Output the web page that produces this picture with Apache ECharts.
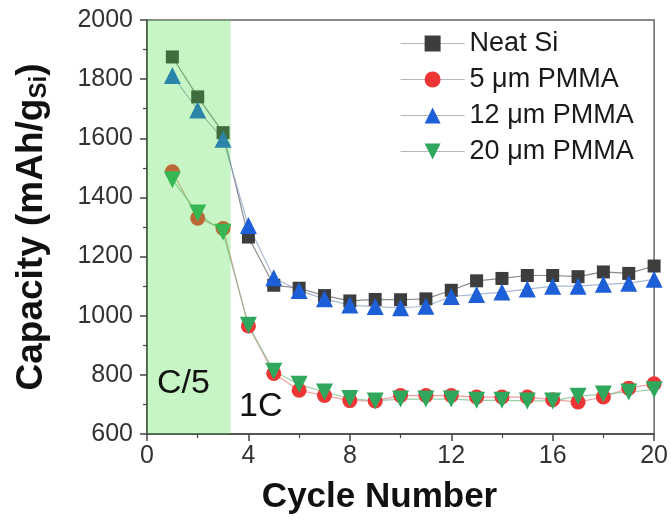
<!DOCTYPE html>
<html>
<head>
<meta charset="utf-8">
<script src="https://cdn.jsdelivr.net/npm/echarts@6/dist/echarts.min.js"></script>
<style>
  html, body { margin: 0; padding: 0; background: #fff; }
  #chart { width: 671px; height: 520px; }
</style>
</head>
<body>
<div id="chart"></div>
<script>
// Cycle index and discharge capacity (mAh/g of Si) per electrode type
const cycles = [1, 2, 3, 4, 5, 6, 7, 8, 9, 10, 11, 12, 13, 14, 15, 16, 17, 18, 19, 20];
const neatSi = [1875, 1740, 1619, 1266, 1103, 1093, 1068, 1050, 1055, 1054, 1057, 1086, 1118, 1126, 1136, 1136, 1132, 1148, 1143, 1168];
const pmma5  = [1487, 1330, 1295, 965, 805, 748, 730, 713, 712, 730, 730, 730, 725, 725, 725, 716, 708, 725, 755, 770];
const pmma12 = [1812, 1696, 1597, 1305, 1128, 1085, 1057, 1036, 1031, 1027, 1032, 1065, 1072, 1080, 1090, 1100, 1100, 1106, 1110, 1123];
const pmma20 = [1460, 1347, 1282, 968, 812, 768, 742, 720, 712, 718, 718, 718, 714, 714, 712, 712, 728, 735, 742, 750];

const seriesNames = ['Neat Si', '5 \u03bcm PMMA', '12 \u03bcm PMMA', '20 \u03bcm PMMA'];

// Slow-rate (C/5) formation window, in cycle units
const rateBands = [[0, 3.3]];

// Axis ticks
const xTicks = [0, 4, 8, 12, 16, 20];
const yTicks = [600, 800, 1000, 1200, 1400, 1600, 1800, 2000];

const yMin = yTicks[0], yMax = yTicks[yTicks.length - 1];
const pair = (vals) => cycles.map((c, i) => [c, vals[i]]);

const FONT = '"Liberation Sans", Arial, sans-serif';

const chart = echarts.init(document.getElementById('chart'), null, { renderer: 'canvas' });

function lineSeries(name, vals, color, lineColor, symbol, size, rotate) {
  return {
    name: name,
    type: 'line',
    data: pair(vals),
    symbol: symbol,
    symbolSize: size,
    symbolRotate: rotate || 0,
    showAllSymbol: true,
    clip: true,
    itemStyle: { color: color, opacity: 1 },
    lineStyle: { color: lineColor, width: 1.2 },
    emphasis: { disabled: true },
    z: 3
  };
}

chart.setOption({
  animation: false,
  backgroundColor: '#ffffff',
  grid: {
    left: 146, right: 14, top: 20, bottom: 85,
    show: true, borderColor: '#666', borderWidth: 1.5, backgroundColor: 'transparent'
  },
  legend: {
    data: seriesNames,
    orient: 'vertical',
    left: 395, top: 25,
    itemWidth: 64, itemHeight: 20, itemGap: 9,
    textStyle: { fontFamily: FONT, fontSize: 27, lineHeight: 27, color: '#1a1a1a' },
    lineStyle: { color: '#b8b8b8', width: 1.2 },
    selectedMode: false
  },
  xAxis: {
    type: 'value',
    min: xTicks[0], max: xTicks[xTicks.length - 1], interval: 4,
    name: 'Cycle Number',
    nameLocation: 'middle',
    nameGap: 46,
    nameTextStyle: { fontFamily: FONT, fontSize: 35, fontWeight: 'bold', color: '#111', padding: [0, 42, 0, 0] },
    axisLine: { show: true, onZero: false, lineStyle: { color: '#444', width: 1.5 } },
    axisTick: { show: true, inside: false, length: 7, lineStyle: { color: '#444', width: 1.5 } },
    minorTick: { show: true, splitNumber: 2, length: 4, lineStyle: { color: '#444', width: 1.2 } },
    axisLabel: { fontFamily: FONT, fontSize: 25, color: '#333', margin: 10 },
    splitLine: { show: false }
  },
  yAxis: {
    type: 'value',
    min: yMin, max: yMax, interval: 200,
    name: '{t|Capacity (mAh/g}{s|Si}{t|)}',
    nameLocation: 'middle',
    nameRotate: 90,
    nameGap: 96,
    nameTextStyle: {
      rich: {
        t: { fontFamily: FONT, fontSize: 37, fontWeight: 'bold', color: '#111', lineHeight: 38, verticalAlign: 'top', padding: [0, 0, 4, 0] },
        s: { fontFamily: FONT, fontSize: 24, fontWeight: 'bold', color: '#111', lineHeight: 23, verticalAlign: 'bottom', padding: [19, 0, 0, 0] }
      }
    },
    axisLine: { show: true, onZero: false, lineStyle: { color: '#444', width: 1.5 } },
    axisTick: { show: true, inside: false, length: 7, lineStyle: { color: '#444', width: 1.5 } },
    minorTick: { show: true, splitNumber: 2, length: 4, lineStyle: { color: '#444', width: 1.2 } },
    axisLabel: { fontFamily: FONT, fontSize: 25, color: '#333', margin: 14, formatter: (v) => String(v) },
    splitLine: { show: false }
  },
  graphic: [
    { type: 'text', left: 157, top: 367, style: { text: 'C/5', font: '34px ' + FONT, fill: '#111' }, z: 20 },
    { type: 'text', left: 239, top: 390, style: { text: '1C', font: '34px ' + FONT, fill: '#111' }, z: 20 }
  ],
  series: [
    lineSeries(seriesNames[0], neatSi, '#3d3d3d', 'rgba(110,110,110,0.8)', 'rect', 13),
    lineSeries(seriesNames[1], pmma5, '#ee3535', 'rgba(230,120,120,0.7)', 'circle', 15),
    lineSeries(seriesNames[2], pmma12, '#1d5fd6', 'rgba(140,160,200,0.75)', 'triangle', 17),
    lineSeries(seriesNames[3], pmma20, '#2fa75c', 'rgba(120,190,140,0.75)', 'triangle', 17, 180),
    {
      name: 'C/5 window',
      type: 'custom',
      silent: true,
      z: 10,
      data: rateBands,
      encode: { x: [0, 1] },
      renderItem: function (params, api) {
        const p0 = api.coord([api.value(0), yMax]);
        const p1 = api.coord([api.value(1), yMin]);
        return {
          type: 'rect',
          shape: { x: p0[0], y: p0[1], width: p1[0] - p0[0], height: p1[1] - p0[1] },
          style: { fill: 'rgba(72,222,62,0.3)' }
        };
      }
    }
  ]
});
</script>
</body>
</html>
